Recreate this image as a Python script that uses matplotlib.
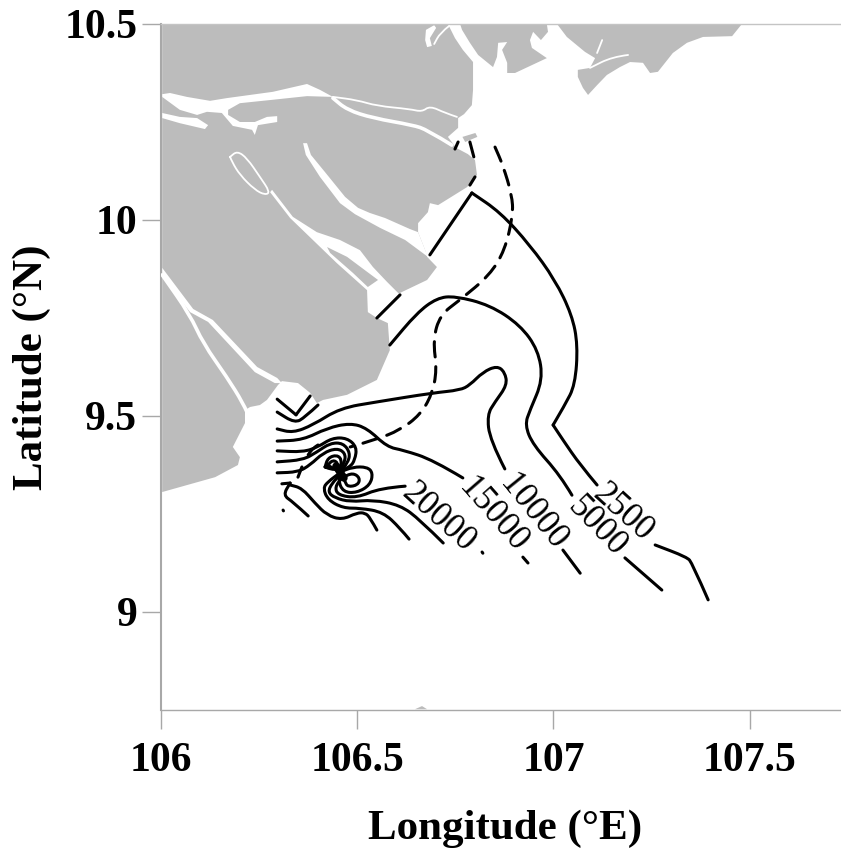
#!/usr/bin/env python
#------------------------------
# contours off the delta mouths, lon/lat

import matplotlib
matplotlib.use('Agg')
import matplotlib.pyplot as plt
from matplotlib.path import Path
from matplotlib.patches import PathPatch

#------------------------------
# land outlines, (lon, lat)

land_main = [(106.003,10.500),(106.731,10.500),(106.749,10.464),(106.769,10.434),(106.795,10.403),
    (106.795,10.332),(106.792,10.293),(106.772,10.270),(106.757,10.260),(106.757,10.235),
    (106.731,10.212),(106.752,10.184),(106.782,10.168),(106.800,10.153),(106.805,10.115),
    (106.780,10.084),(106.706,10.038),(106.685,10.043),(106.680,10.020),(106.655,9.992),
    (106.655,9.969),(106.673,9.923),(106.678,9.906),(106.703,9.880),(106.678,9.847),
    (106.609,9.814),(106.589,9.796),(106.550,9.750),(106.578,9.737),(106.583,9.668),
    (106.550,9.592),(106.474,9.554),(106.413,9.541),(106.397,9.533),(106.380,9.559),
    (106.349,9.584),(106.308,9.589),(106.298,9.579),(106.270,9.541),(106.252,9.528),
    (106.227,9.523),(106.214,9.515),(106.214,9.482),(106.183,9.421),(106.201,9.395),
    (106.196,9.375),(106.138,9.344),(106.003,9.306)]

land_mid = [(106.762,10.500),(106.983,10.500),(106.986,10.480),(106.968,10.459),(106.948,10.480),
    (106.940,10.459),(106.945,10.439),(106.983,10.413),(106.902,10.375),(106.882,10.375),
    (106.882,10.401),(106.869,10.434),(106.882,10.454),(106.859,10.452),(106.856,10.416),
    (106.846,10.390),(106.808,10.421),(106.787,10.452),(106.767,10.485)]

land_east = [(107.009,10.500),(107.480,10.500),(107.455,10.469),(107.381,10.467),(107.340,10.452),
    (107.304,10.426),(107.266,10.378),(107.246,10.375),(107.228,10.401),(107.195,10.403),
    (107.169,10.390),(107.136,10.370),(107.111,10.344),(107.088,10.319),(107.075,10.337),
    (107.062,10.365),(107.062,10.383),(107.093,10.388),(107.106,10.413),(107.080,10.429),
    (107.034,10.467)]

land_islet = [(106.768,10.212),(106.801,10.222),(106.806,10.212),(106.775,10.199)]
land_spit = [(106.423,9.931),(106.474,9.906),(106.553,9.847),(106.527,9.829),(106.489,9.865),(106.431,9.916)]
land_bottom = [(106.647,8.752),(106.665,8.760),(106.678,8.752)]

#------------------------------
# channels cut through the land

river_north = [(106.003,10.321),(106.023,10.324),(106.066,10.314),(106.125,10.304),(106.168,10.311),
    (106.285,10.327),(106.372,10.347),(106.405,10.332),(106.438,10.314),(106.372,10.316),
    (106.278,10.306),(106.201,10.298),(106.171,10.281),(106.171,10.268),(106.201,10.250),
    (106.239,10.250),(106.270,10.263),(106.296,10.265),(106.296,10.250),(106.247,10.242),
    (106.239,10.217),(106.232,10.230),(106.183,10.240),(106.155,10.273),(106.117,10.276),
    (106.092,10.268),(106.048,10.281),(106.003,10.314)]

river_stripe = [(106.003,10.273),(106.048,10.263),(106.092,10.260),(106.120,10.242),(106.112,10.232),
    (106.048,10.247),(106.003,10.260)]

river_mid = [(106.362,10.196),(106.369,10.166),(106.405,10.110),(106.456,10.043),(106.494,10.015),
    (106.558,9.980),(106.622,9.949),(106.680,9.906),(106.655,9.969),(106.634,9.977),(106.571,10.005),
    (106.532,10.018),(106.502,10.031),(106.469,10.059),(106.418,10.122),(106.382,10.166),(106.372,10.196)]

river_wide = [(106.278,10.071),(106.329,10.005),(106.387,9.949),(106.448,9.890),(106.525,9.821),
    (106.527,9.765),(106.550,9.750),(106.609,9.809),(106.576,9.842),(106.540,9.880),(106.507,9.923),
    (106.456,9.949),(106.397,9.969),(106.336,10.008),(106.283,10.077)]

river_south = [(106.003,9.878),(106.082,9.773),(106.132,9.745),(106.245,9.625),(106.296,9.597),
    (106.308,9.584),(106.290,9.584),(106.239,9.612),(106.120,9.740),(106.074,9.765),(106.003,9.857)]

river_top = [(106.675,10.485),(106.696,10.497),(106.701,10.490),(106.685,10.464),(106.690,10.444),
    (106.678,10.441),(106.673,10.459)]

channel_lower_south = [(106.003,9.860),(106.074,9.758),(106.107,9.686),(106.168,9.599),(106.209,9.533),(106.219,9.510)]
channel_north = [(106.438,10.314),(106.499,10.306),(106.550,10.291),(106.634,10.283),(106.665,10.276),
    (106.685,10.291),(106.724,10.273),(106.754,10.263)]
channel_lower = [(106.438,10.311),(106.474,10.281),(106.540,10.260),(106.642,10.242),(106.678,10.230),(106.741,10.191)]
channel_loop = [(106.176,10.161),(106.194,10.176),(106.219,10.158),(106.252,10.110),(106.278,10.071),
    (106.265,10.064),(106.239,10.077),(106.201,10.115),(106.181,10.148),(106.176,10.161)]
channel_top = [(106.696,10.449),(106.711,10.477),(106.734,10.495)]
channel_inlet = [(107.093,10.388),(107.149,10.416),(107.190,10.421)]
channel_inlet2 = [(107.111,10.426),(107.124,10.459)]

#------------------------------
# contour segments, the numbered ones carry on past their label

c2500_a = [(106.550,9.750),(106.609,9.809)]
c2500_b = [(106.685,9.911),(106.792,10.069)]
c2500_c = [(106.792,10.069),(106.864,10.020),(106.940,9.936),(107.004,9.847),(107.047,9.758),
    (107.062,9.681),(107.055,9.579),(107.029,9.528),(106.999,9.477)]
c2500_d = [(106.999,9.477),(107.024,9.439),(107.068,9.375),(107.111,9.324)]
c2500_e = [(107.259,9.171),(107.340,9.140),(107.353,9.125),(107.394,9.031)]

c5000_a = [(106.583,9.681),(106.652,9.763),(106.703,9.801),(106.749,9.806),(106.838,9.783),
    (106.915,9.732),(106.961,9.668),(106.973,9.592),(106.940,9.515),(106.927,9.477),
    (106.948,9.426),(107.017,9.349),(107.047,9.298)]
c5000_b = [(107.182,9.138),(107.276,9.056)]

c10000_a = [(106.296,9.467),(106.336,9.457),(106.387,9.477),(106.456,9.520),(106.550,9.536),
    (106.693,9.559),(106.762,9.566),(106.787,9.579),(106.820,9.612),(106.856,9.628),(106.876,9.612),
    (106.882,9.579),(106.851,9.536),(106.831,9.503),(106.838,9.439),(106.876,9.365)]
c10000_b = [(107.024,9.158),(107.068,9.099)]

c15000_a = [(106.296,9.436),(106.362,9.439),(106.423,9.469),(106.482,9.482),(106.525,9.469),
    (106.576,9.421),(106.617,9.413),(106.693,9.388),(106.769,9.342)]
c15000_b = [(106.922,9.140),(106.935,9.125)]

c20000_a = [(106.461,9.342),(106.443,9.319),(106.451,9.298),(106.499,9.291),(106.558,9.316),(106.622,9.321)]
c20000_b = [(106.818,9.153),(106.820,9.150)]

c_left_a = [(106.296,9.543),(106.344,9.503)]
c_left_b = [(106.344,9.503),(106.380,9.551)]
c_left_c = [(106.296,9.510),(106.341,9.482),(106.367,9.497),(106.400,9.528)]
c_in_1 = [(106.296,9.411),(106.362,9.408),(106.400,9.421),(106.436,9.444),(106.474,9.444),
    (106.499,9.421),(106.494,9.388),(106.482,9.370),(106.456,9.357)]
c_in_2 = [(106.296,9.383),(106.362,9.388),(106.397,9.408),(106.431,9.431),(106.464,9.431),
    (106.482,9.406),(106.476,9.380),(106.461,9.362)]
c_in_3 = [(106.296,9.355),(106.349,9.357),(106.380,9.375),(106.413,9.406),(106.448,9.418),
    (106.469,9.406),(106.469,9.383),(106.456,9.362)]
c_loop_1 = [(106.418,9.370),(106.425,9.393),(106.448,9.401),(106.461,9.388),(106.456,9.367),(106.436,9.362),(106.418,9.370)]
c_loop_2 = [(106.425,9.375),(106.438,9.388),(106.451,9.380),(106.451,9.362),(106.436,9.367),(106.425,9.375)]
c_loop_3 = [(106.456,9.357),(106.489,9.370),(106.525,9.370),(106.540,9.355),(106.533,9.324),
    (106.499,9.304),(106.464,9.306),(106.451,9.337),(106.456,9.357)]
c_loop_4 = [(106.464,9.344),(106.489,9.355),(106.507,9.342),(106.502,9.324),(106.476,9.319),(106.469,9.332),(106.464,9.344)]
c_low_1 = [(106.308,9.327),(106.329,9.329)]
c_low_2 = [(106.329,9.329),(106.311,9.298),(106.336,9.281),(106.375,9.245)]
c_low_3 = [(106.329,9.324),(106.359,9.316),(106.392,9.278),(106.423,9.247),(106.461,9.235),
    (106.499,9.253),(106.520,9.253),(106.533,9.240),(106.550,9.209)]
c_low_4 = [(106.456,9.355),(106.425,9.332),(106.413,9.316),(106.425,9.286),(106.464,9.265),
    (106.507,9.265),(106.566,9.255),(106.609,9.214),(106.632,9.186)]
c_low_5 = [(106.456,9.349),(106.436,9.329),(106.425,9.306),(106.443,9.291),(106.482,9.281),
    (106.540,9.286),(106.609,9.273),(106.660,9.235),(106.719,9.176)]
c_dot = [(106.311,9.260),(106.312,9.258)]
c_tick_1 = [(106.359,9.370),(106.349,9.344)]
c_tick_2 = [(106.375,9.401),(106.387,9.418),(106.400,9.426)]
c_centre = [(106.446,9.372),(106.466,9.342)]

contours = [c2500_a, c2500_b, c2500_c, c2500_d, c2500_e, c5000_a, c5000_b, c10000_a, c10000_b,
    c15000_a, c15000_b, c20000_a, c20000_b, c_left_a, c_left_b, c_left_c, c_in_1, c_in_2, c_in_3,
    c_loop_1, c_loop_2, c_loop_3, c_loop_4, c_low_1, c_low_2, c_low_3, c_low_4, c_low_5,
    c_dot, c_tick_1, c_tick_2]

dashed_east = [(106.851,10.186),(106.871,10.140),(106.894,10.064),(106.897,10.013),(106.876,9.923),
    (106.838,9.860),(106.762,9.796),(106.711,9.758),(106.693,9.694),(106.703,9.617),(106.690,9.554),
    (106.660,9.503),(106.609,9.464),(106.545,9.439),(106.482,9.421)]
dash_bits = [[(106.749,10.181),(106.757,10.199)], [(106.787,10.199),(106.797,10.161)],
    [(106.800,10.110),(106.787,10.089)]]

contour_labels = ['2500', '5000', '10000', '15000', '20000']
label_lon = [107.177, 107.111, 106.948, 106.846, 106.706]
label_lat = [9.253, 9.217, 9.255, 9.247, 9.240]
label_rot = [-42, -46, -51, -49, -42]

xticks = [106, 106.5, 107, 107.5]
yticks = [9, 9.5, 10, 10.5]
xticklabels = ['106', '106.5', '107', '107.5']
yticklabels = ['9', '9.5', '10', '10.5']

#------------------------------

LAND = '#bcbcbc'
AXIS = '#a8a8a8'
W, H = 841, 851

def draw_poly(ax, pts, color, z) :
    xs = [p[0] for p in pts]
    ys = [p[1] for p in pts]
    ax.fill(xs, ys, color=color, lw=0, zorder=z)

def smooth_path(pts) :
    # quadratic pieces with the read points as control points
    if len(pts) < 3 :
        return Path(pts)
    mid = lambda a, b : ((a[0]+b[0])/2., (a[1]+b[1])/2.)
    verts = [pts[0], mid(pts[0], pts[1])]
    codes = [Path.MOVETO, Path.LINETO]
    for i in range(1, len(pts)-1) :
        end = mid(pts[i], pts[i+1]) if i < len(pts)-2 else pts[-1]
        verts += [pts[i], end]
        codes += [Path.CURVE3, Path.CURVE3]
    return Path(verts, codes)

def draw_line(ax, pts, color='black', lw=2.2, z=5, ls='-') :
    ax.add_patch(PathPatch(smooth_path(pts), fill=False, edgecolor=color, lw=lw, ls=ls,
                           capstyle='round', joinstyle='round', zorder=z))

#------------------------------

plt.rcParams['font.family'] = ['Liberation Serif', 'DejaVu Serif']

fig = plt.figure(figsize=(W/100., H/100.), dpi=100)
ax = fig.add_axes([161./W, 1-710./H, 680./W, 686./H])
ax.set_xlim(106, 106 + 680/392.5)
ax.set_ylim(10.5 - 686/392., 10.5)

for p in (land_main, land_mid, land_east, land_bottom) :
    draw_poly(ax, p, LAND, 1)
for p in (river_north, river_stripe, river_mid, river_wide, river_south, river_top) :
    draw_poly(ax, p, 'white', 2)
for p in (land_islet, land_spit) :
    draw_poly(ax, p, LAND, 3)
for p in (channel_north, channel_loop, channel_inlet, channel_inlet2, channel_top) :
    draw_line(ax, p, color='white', lw=1.3, z=3)
for p in (channel_lower, channel_lower_south) :
    draw_line(ax, p, color='white', lw=2.6, z=3)

for c in contours :
    draw_line(ax, c)
draw_line(ax, c_centre, lw=5.5)
draw_line(ax, dashed_east, ls=(0, (5, 3.2)))
for c in dash_bits :
    draw_line(ax, c)

for s, x, y, r in zip(contour_labels, label_lon, label_lat, label_rot) :
    ax.text(x, y, s, rotation=r, rotation_mode='anchor', ha='center', va='center',
            fontsize=25, color='black', zorder=6)

ax.spines['right'].set_visible(False)
ax.spines['left'].set_color(AXIS)
ax.spines['left'].set_linewidth(1.5)
ax.spines['bottom'].set_color(AXIS)
ax.spines['bottom'].set_linewidth(1.0)
ax.spines['top'].set_color('#c4c4c4')
ax.spines['top'].set_linewidth(1.0)

ax.set_xticks(xticks)
ax.set_xticklabels(xticklabels)
ax.set_yticks(yticks)
ax.set_yticklabels(yticklabels)
ax.tick_params(axis='both', length=13.5, width=1, color=AXIS, labelsize=30)
ax.tick_params(axis='x', pad=9.5)
ax.tick_params(axis='y', pad=3.6)
for t in ax.get_xticklabels() + ax.get_yticklabels() :
    t.set_fontweight('bold')

fig.text(505./W, 1-829./H, 'Longitude (\u00b0E)', fontsize=31, fontweight='bold', ha='center', va='center')
fig.text(32./W, 1-367./H, 'Latitude (\u00b0N)', fontsize=31, fontweight='bold', rotation=90, ha='center', va='center')

fig.savefig('out.png', dpi=100)
